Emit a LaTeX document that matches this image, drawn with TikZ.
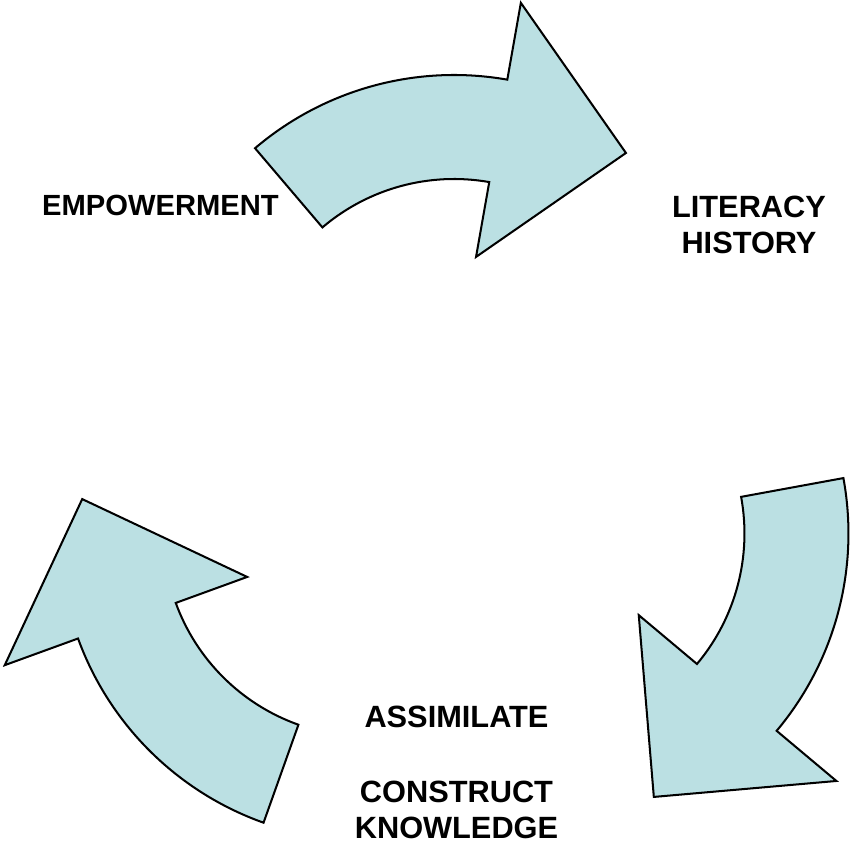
\documentclass[tikz,border=0pt]{standalone}
\usepackage{fontspec}
\setmainfont{Liberation Sans}
\definecolor{cyclefill}{HTML}{BBE0E3}
\tikzset{
  cyclearrow/.style={draw=black, line width=1.15pt, fill=cyclefill, line join=miter},
  steplabel/.style={font=\fontsize{17.5}{20.5}\selectfont\bfseries, align=center, inner sep=0pt}
}
\begin{document}
\begin{tikzpicture}[scale=2]
  \useasboundingbox (-4.54,-3.63) rectangle (3.96,4.83);
  % Curved arrows, turned round the middle
  \foreach \rot in {0,-120,-240} {
    \begin{scope}[rotate=\rot, shift={(0,1.01)}]
      \draw[cyclearrow] (130.4:3.07) arc[start angle=130.4, end angle=80, radius=3.07]
        -- (80:3.85) -- (53.1:2.864) -- (80:1.27) -- (80:2.03)
        arc[start angle=80, end angle=130.4, radius=2.03] -- cycle;
    \end{scope}
  }
  % Labels
  \node[steplabel, font=\fontsize{16.6}{20.5}\selectfont\bfseries, anchor=base] (empowerment) at (-2.935,2.67) {EMPOWERMENT};
  \node[steplabel] (literacy) at (2.95,2.58) {LITERACY\\HISTORY};
  \node[steplabel, anchor=base] (assimilate) at (0.025,-2.44) {ASSIMILATE};
  \node[steplabel] (construct) at (0.025,-3.265) {CONSTRUCT\\KNOWLEDGE};
\end{tikzpicture}
\end{document}
